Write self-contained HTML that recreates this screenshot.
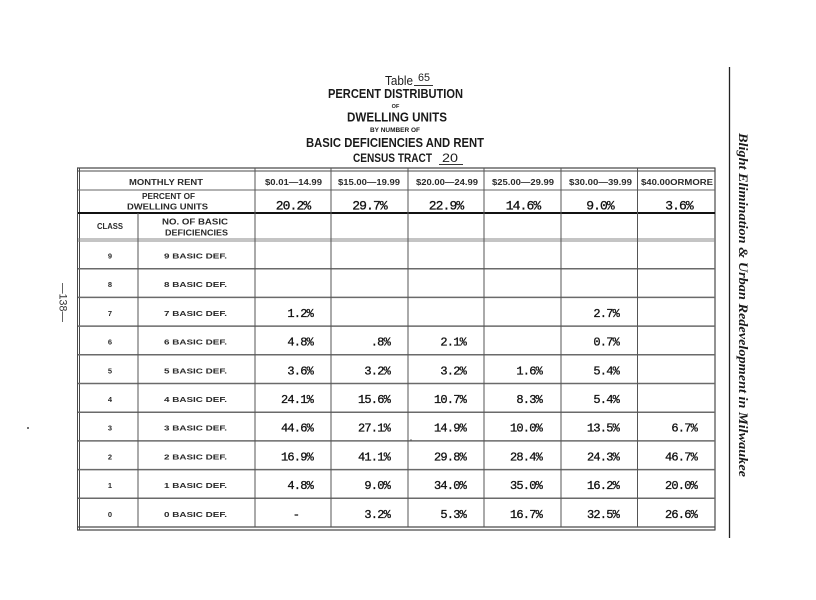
<!DOCTYPE html>
<html>
<head>
<meta charset="utf-8">
<style>
  html,body{margin:0;padding:0;background:#fff;}
  body{width:816px;height:600px;overflow:hidden;}
  svg{display:block;}
  .t{font-family:"Liberation Sans",sans-serif;fill:#1c1c1c;}
  .tb{font-family:"Liberation Sans",sans-serif;font-weight:bold;fill:#1a1a1a;}
  .h{font-family:"Liberation Sans",sans-serif;font-weight:bold;font-size:8px;fill:#2a2a2a;}
  .v{font-family:"Liberation Mono",monospace;font-size:12px;fill:#111;stroke:#111;stroke-width:0.3px;letter-spacing:-0.8px;}
  .pv{font-family:"Liberation Mono",monospace;font-size:13px;fill:#111;stroke:#111;stroke-width:0.3px;letter-spacing:-0.9px;}
  .lab{font-family:"Liberation Sans",sans-serif;font-weight:bold;font-size:7.5px;fill:#2a2a2a;}
</style>
</head>
<body>
<svg width="816" height="600" viewBox="0 0 816 600" xmlns="http://www.w3.org/2000/svg">
  <rect x="0" y="0" width="816" height="600" fill="#fff"/>

  <!-- Title -->
  <text class="t" x="385" y="85" font-size="12.5" textLength="28" lengthAdjust="spacingAndGlyphs">Table</text>
  <text class="t" x="418" y="81" font-size="11" textLength="12" lengthAdjust="spacingAndGlyphs">65</text>
  <line x1="414" y1="85.5" x2="433" y2="85.5" stroke="#333" stroke-width="1"/>
  <text class="tb" x="328" y="98" font-size="12.5" textLength="135" lengthAdjust="spacingAndGlyphs">PERCENT DISTRIBUTION</text>
  <text class="tb" x="395.5" y="108" font-size="5.5" text-anchor="middle">OF</text>
  <text class="tb" x="347" y="121.5" font-size="12.5" textLength="100" lengthAdjust="spacingAndGlyphs">DWELLING UNITS</text>
  <text class="tb" x="370" y="132" font-size="6" textLength="50" lengthAdjust="spacingAndGlyphs">BY NUMBER OF</text>
  <text class="tb" x="306" y="147" font-size="12.5" textLength="178" lengthAdjust="spacingAndGlyphs">BASIC DEFICIENCIES AND RENT</text>
  <text class="tb" x="353" y="162" font-size="12" textLength="79" lengthAdjust="spacingAndGlyphs">CENSUS TRACT</text>
  <text class="t" x="442" y="162" font-size="12" textLength="16" lengthAdjust="spacingAndGlyphs">20</text>
  <line x1="439" y1="164.5" x2="463" y2="164.5" stroke="#333" stroke-width="1"/>

  <!-- Table grid -->
  <g stroke="#4a4a4a" fill="none">
    <line x1="77" y1="168" x2="715.5" y2="168" stroke-width="1.2"/>
    <line x1="77" y1="171" x2="715.5" y2="171" stroke-width="1"/>
    <line x1="77" y1="527" x2="715.5" y2="527" stroke-width="1.2"/>
    <line x1="77" y1="530" x2="715.5" y2="530" stroke-width="1.2"/>
    <line x1="77.5" y1="168" x2="77.5" y2="530" stroke-width="1"/>
    <line x1="79.5" y1="168" x2="79.5" y2="530" stroke-width="1"/>
    <line x1="715" y1="168" x2="715" y2="530" stroke-width="1.2"/>
    <line x1="78" y1="190" x2="715" y2="190" stroke-width="1" stroke="#666"/>
    <line x1="78" y1="213" x2="715" y2="213" stroke-width="2" stroke="#111"/>
    <line x1="78" y1="239" x2="715" y2="239" stroke-width="1" stroke="#888"/>
    <line x1="78" y1="241" x2="715" y2="241" stroke-width="1" stroke="#888"/>
    <g stroke="#6a6a6a" stroke-width="1.5">
      <line x1="78" y1="268.7" x2="715" y2="268.7"/>
      <line x1="78" y1="297.4" x2="715" y2="297.4"/>
      <line x1="78" y1="326.1" x2="715" y2="326.1"/>
      <line x1="78" y1="354.8" x2="715" y2="354.8"/>
      <line x1="78" y1="383.5" x2="715" y2="383.5"/>
      <line x1="78" y1="412.2" x2="715" y2="412.2"/>
      <line x1="78" y1="440.9" x2="715" y2="440.9"/>
      <line x1="78" y1="469.6" x2="715" y2="469.6"/>
      <line x1="78" y1="498.3" x2="715" y2="498.3"/>
    </g>
    <g stroke="#555" stroke-width="1">
      <line x1="138" y1="213" x2="138" y2="527"/>
      <line x1="255" y1="168" x2="255" y2="527"/>
      <line x1="331" y1="168" x2="331" y2="527"/>
      <line x1="408" y1="168" x2="408" y2="527"/>
      <line x1="484" y1="168" x2="484" y2="527"/>
      <line x1="561" y1="168" x2="561" y2="527"/>
      <line x1="637.5" y1="168" x2="637.5" y2="527"/>
    </g>
  </g>

  <!-- Header row 1 -->
  <text class="h" x="129" y="185" textLength="74" lengthAdjust="spacingAndGlyphs">MONTHLY RENT</text>
  <text class="h" x="265" y="185" textLength="57" lengthAdjust="spacingAndGlyphs">$0.01—14.99</text>
  <text class="h" x="338" y="185" textLength="62" lengthAdjust="spacingAndGlyphs">$15.00—19.99</text>
  <text class="h" x="416" y="185" textLength="62" lengthAdjust="spacingAndGlyphs">$20.00—24.99</text>
  <text class="h" x="492" y="185" textLength="62" lengthAdjust="spacingAndGlyphs">$25.00—29.99</text>
  <text class="h" x="569" y="185" textLength="63" lengthAdjust="spacingAndGlyphs">$30.00—39.99</text>
  <text class="h" x="641" y="185" textLength="72" lengthAdjust="spacingAndGlyphs">$40.00ORMORE</text>

  <!-- Header row 2 -->
  <text class="h" x="142" y="199" textLength="53" lengthAdjust="spacingAndGlyphs">PERCENT OF</text>
  <text class="h" x="127" y="209.5" textLength="81" lengthAdjust="spacingAndGlyphs">DWELLING UNITS</text>
  <text class="pv" x="293" y="209.5" text-anchor="middle">20.2%</text>
  <text class="pv" x="369.5" y="209.5" text-anchor="middle">29.7%</text>
  <text class="pv" x="446" y="209.5" text-anchor="middle">22.9%</text>
  <text class="pv" x="523" y="209.5" text-anchor="middle">14.6%</text>
  <text class="pv" x="600" y="209.5" text-anchor="middle">9.0%</text>
  <text class="pv" x="679" y="209.5" text-anchor="middle">3.6%</text>

  <!-- Header row 3 -->
  <text class="h" x="97" y="229" textLength="26" lengthAdjust="spacingAndGlyphs">CLASS</text>
  <text class="h" x="162" y="224.5" textLength="66" lengthAdjust="spacingAndGlyphs">NO. OF BASIC</text>
  <text class="h" x="165" y="235.5" textLength="63" lengthAdjust="spacingAndGlyphs">DEFICIENCIES</text>

  <!-- Row labels -->
  <g class="lab">
    <text x="110" y="258.5" text-anchor="middle">9</text>
    <text x="164" y="258.5" textLength="63" lengthAdjust="spacingAndGlyphs">9 BASIC DEF.</text>
    <text x="110" y="287.2" text-anchor="middle">8</text>
    <text x="164" y="287.2" textLength="63" lengthAdjust="spacingAndGlyphs">8 BASIC DEF.</text>
    <text x="110" y="315.9" text-anchor="middle">7</text>
    <text x="164" y="315.9" textLength="63" lengthAdjust="spacingAndGlyphs">7 BASIC DEF.</text>
    <text x="110" y="344.6" text-anchor="middle">6</text>
    <text x="164" y="344.6" textLength="63" lengthAdjust="spacingAndGlyphs">6 BASIC DEF.</text>
    <text x="110" y="373.3" text-anchor="middle">5</text>
    <text x="164" y="373.3" textLength="63" lengthAdjust="spacingAndGlyphs">5 BASIC DEF.</text>
    <text x="110" y="402" text-anchor="middle">4</text>
    <text x="164" y="402" textLength="63" lengthAdjust="spacingAndGlyphs">4 BASIC DEF.</text>
    <text x="110" y="430.7" text-anchor="middle">3</text>
    <text x="164" y="430.7" textLength="63" lengthAdjust="spacingAndGlyphs">3 BASIC DEF.</text>
    <text x="110" y="459.4" text-anchor="middle">2</text>
    <text x="164" y="459.4" textLength="63" lengthAdjust="spacingAndGlyphs">2 BASIC DEF.</text>
    <text x="110" y="488.1" text-anchor="middle">1</text>
    <text x="164" y="488.1" textLength="63" lengthAdjust="spacingAndGlyphs">1 BASIC DEF.</text>
    <text x="110" y="516.8" text-anchor="middle">0</text>
    <text x="164" y="516.8" textLength="63" lengthAdjust="spacingAndGlyphs">0 BASIC DEF.</text>
  </g>

  <!-- Data values (right aligned) -->
  <g class="v" text-anchor="end">
    <text x="313" y="316.9">1.2%</text>
    <text x="619" y="316.9">2.7%</text>
    <text x="313" y="345.6">4.8%</text>
    <text x="390" y="345.6">.8%</text>
    <text x="466" y="345.6">2.1%</text>
    <text x="619" y="345.6">0.7%</text>
    <text x="313" y="374.3">3.6%</text>
    <text x="390" y="374.3">3.2%</text>
    <text x="466" y="374.3">3.2%</text>
    <text x="542" y="374.3">1.6%</text>
    <text x="619" y="374.3">5.4%</text>
    <text x="313" y="403">24.1%</text>
    <text x="390" y="403">15.6%</text>
    <text x="466" y="403">10.7%</text>
    <text x="542" y="403">8.3%</text>
    <text x="619" y="403">5.4%</text>
    <text x="313" y="431.7">44.6%</text>
    <text x="390" y="431.7">27.1%</text>
    <text x="466" y="431.7">14.9%</text>
    <text x="542" y="431.7">10.0%</text>
    <text x="619" y="431.7">13.5%</text>
    <text x="697" y="431.7">6.7%</text>
    <text x="313" y="460.4">16.9%</text>
    <text x="390" y="460.4">41.1%</text>
    <text x="466" y="460.4">29.8%</text>
    <text x="542" y="460.4">28.4%</text>
    <text x="619" y="460.4">24.3%</text>
    <text x="697" y="460.4">46.7%</text>
    <text x="313" y="489.1">4.8%</text>
    <text x="390" y="489.1">9.0%</text>
    <text x="466" y="489.1">34.0%</text>
    <text x="542" y="489.1">35.0%</text>
    <text x="619" y="489.1">16.2%</text>
    <text x="697" y="489.1">20.0%</text>
    <text x="390" y="517.8">3.2%</text>
    <text x="466" y="517.8">5.3%</text>
    <text x="542" y="517.8">16.7%</text>
    <text x="619" y="517.8">32.5%</text>
    <text x="697" y="517.8">26.6%</text>
  </g>
  <text class="v" x="296" y="517.8" text-anchor="middle">-</text>
  <circle cx="411" cy="440" r="0.8" fill="#555"/>

  <!-- right margin rule -->
  <line x1="729.5" y1="67" x2="729.5" y2="538" stroke="#222" stroke-width="1.3"/>

  <!-- running title (rotated) -->
  <text transform="translate(739,133) rotate(90)" font-family="'Liberation Serif',serif" font-weight="bold" font-style="italic" font-size="12.5" fill="#1a1a1a" textLength="344" lengthAdjust="spacingAndGlyphs">Blight Elimination &amp; Urban Redevelopment in Milwaukee</text>

  <!-- page number (rotated) -->
  <text transform="translate(59.5,283) rotate(90)" font-family="'Liberation Sans',sans-serif" font-size="11" fill="#333" textLength="39" lengthAdjust="spacingAndGlyphs">—138—</text>

  <circle cx="28" cy="428" r="1" fill="#444"/>
</svg>
</body>
</html>
